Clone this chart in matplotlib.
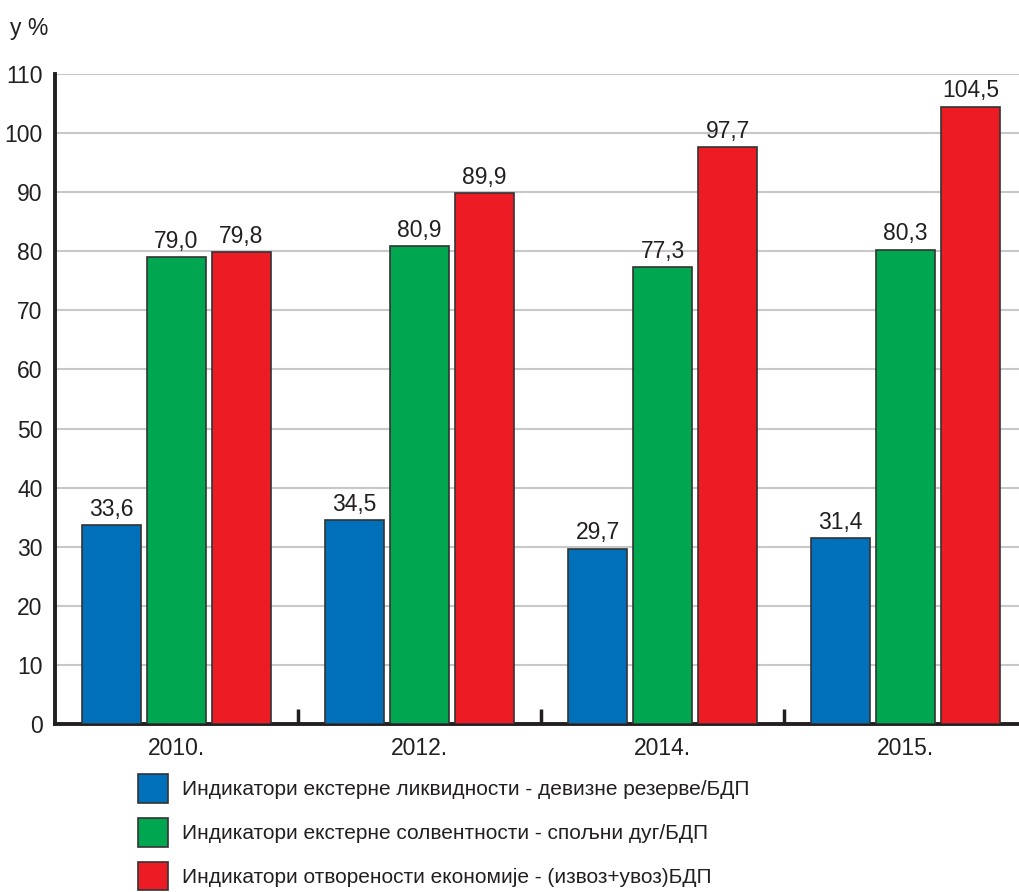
import matplotlib.pyplot as plt
from matplotlib.patches import Patch
import numpy as np

plt.rcParams["font.family"] = ["Liberation Sans Narrow", "Liberation Sans", "DejaVu Sans"]

YEARS = ["2010.", "2012.", "2014.", "2015."]
LIQUIDITY = [33.6, 34.5, 29.7, 31.4]
SOLVENCY = [79.0, 80.9, 77.3, 80.3]
OPENNESS = [79.8, 89.9, 97.7, 104.5]

SERIES_LABELS = [
    "Индикатори екстерне ликвидности - девизне резерве/БДП",
    "Индикатори екстерне солвентности - спољни дуг/БДП",
    "Индикатори отворености економије - (извоз+увоз)БДП",
]
COLORS = ["#0070ba", "#00a650", "#ed1c24"]
INK = "#231f20"


def fmt(v):
    return f"{v:.1f}".replace(".", ",")


def main():
    fig = plt.figure(figsize=(10.2, 8.92), dpi=100)
    ax = fig.add_axes([0.0539, 0.1883, 0.946, 0.7287])

    x = np.arange(len(YEARS))
    step = 0.267
    width = 0.243

    for i, (vals, color) in enumerate(zip([LIQUIDITY, SOLVENCY, OPENNESS], COLORS)):
        pos = x + (i - 1) * step
        ax.bar(pos, vals, width=width, color=color, edgecolor="#333333",
               linewidth=1.2, zorder=3)
        for px, v in zip(pos, vals):
            ax.annotate(fmt(v), (px, v), xytext=(0, 3), textcoords="offset points",
                        ha="center", va="bottom", fontsize=16.5, color=INK)

    ax.set_ylim(0, 110)
    ax.set_xlim(-0.5, 3.47)
    ax.set_yticks(range(0, 111, 10))
    ax.set_xticks(x)
    ax.set_xticklabels(YEARS)
    ax.set_xticks([0.5, 1.5, 2.5], minor=True)
    ax.tick_params(axis="both", which="major", length=0, labelsize=16.5, colors=INK)
    ax.tick_params(axis="y", pad=9)
    ax.tick_params(axis="x", pad=9)
    ax.tick_params(axis="x", which="minor", direction="in", length=11,
                   width=2.5, color=INK)

    ax.grid(axis="y", color="#c8c8c8", linewidth=1.5, zorder=0)
    for side in ["top", "right"]:
        ax.spines[side].set_visible(False)
    for side in ["left", "bottom"]:
        ax.spines[side].set_linewidth(2.8)
        ax.spines[side].set_color(INK)

    fig.text(10 / 1020, 1 - 28 / 892, "у %", fontsize=16.5, va="center",
             ha="left", color=INK)

    handles = [Patch(facecolor=c, edgecolor="#333333", linewidth=1.2) for c in COLORS]
    fig.legend(handles, SERIES_LABELS, loc="upper left",
               bbox_to_anchor=(138 / 1020, 1 - 774 / 892), frameon=False,
               borderpad=0, borderaxespad=0,
               fontsize=15, handlelength=1.45, handleheight=1.75,
               handletextpad=0.65, labelspacing=0.72, labelcolor=INK)

    fig.savefig("out.png", dpi=100)
    plt.close(fig)


if __name__ == "__main__":
    main()
